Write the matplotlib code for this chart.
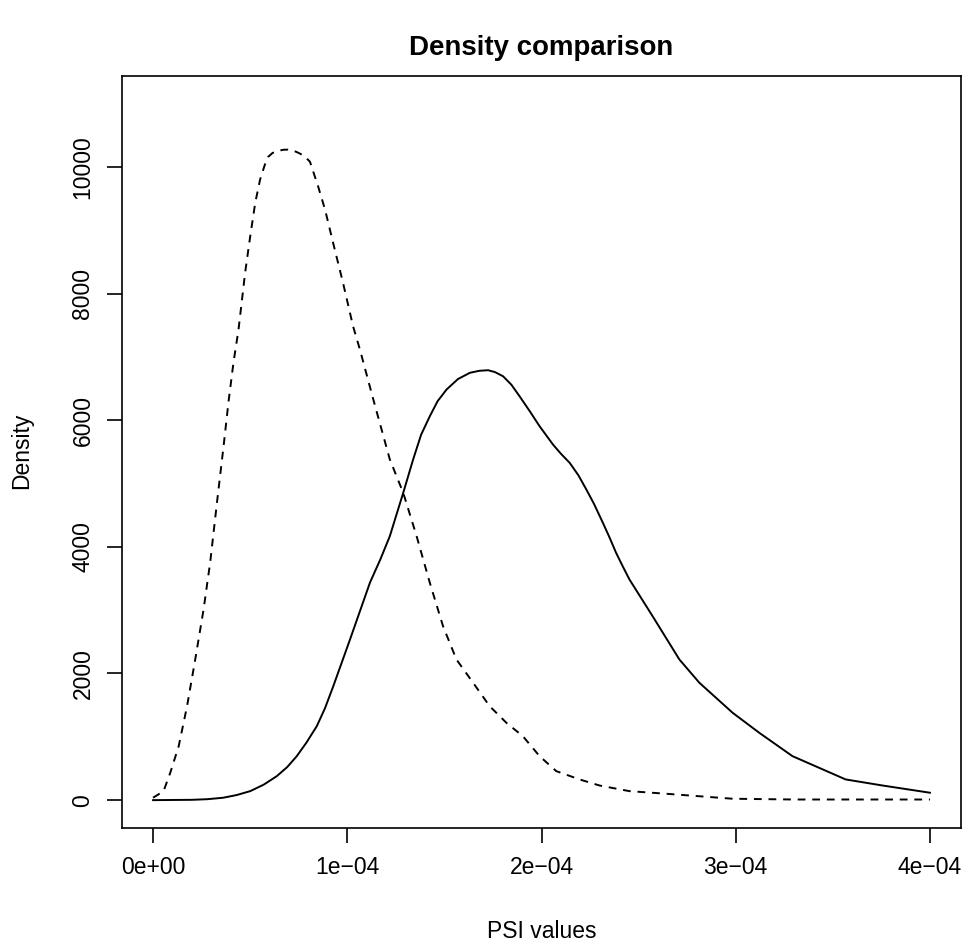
import matplotlib
matplotlib.use("Agg")
import matplotlib.pyplot as plt

plt.rcParams["font.family"] = ["Liberation Sans", "DejaVu Sans"]

# PSI values (x 1e-4) and densities
solid_x = [0.0, 0.2, 0.28, 0.361, 0.43, 0.5, 0.57, 0.637, 0.69, 0.740,
           0.79, 0.843, 0.885, 0.928, 1.014, 1.117, 1.17, 1.219, 1.288, 1.339,
           1.38, 1.425, 1.465, 1.511, 1.57, 1.631, 1.68, 1.725, 1.76, 1.802,
           1.845, 1.887, 1.940, 1.990, 2.059, 2.10, 2.145, 2.19, 2.231, 2.27,
           2.316, 2.35, 2.384, 2.418, 2.453, 2.572, 2.710, 2.813, 2.984, 3.121,
           3.292, 3.566, 3.754, 4.0]
solid_y = [0, 5, 15, 38, 80, 142, 245, 379, 520, 695,
           910, 1168, 1450, 1800, 2537, 3437, 3800, 4168, 4853, 5379,
           5770, 6063, 6300, 6484, 6650, 6748, 6780, 6789, 6760, 6694,
           6560, 6378, 6140, 5905, 5616, 5470, 5327, 5130, 4905, 4680,
           4380, 4150, 3906, 3694, 3484, 2905, 2221, 1853, 1380, 1064,
           695, 327, 232, 117]

dashed_x = [0.0, 0.054, 0.089, 0.132, 0.175, 0.217, 0.260, 0.294, 0.329, 0.363,
            0.388, 0.414, 0.440, 0.474, 0.5, 0.526, 0.551, 0.575, 0.593, 0.615,
            0.64, 0.67, 0.695, 0.72, 0.75, 0.78, 0.808, 0.850, 0.886, 0.927,
            0.978, 1.030, 1.065, 1.134, 1.219, 1.288, 1.357, 1.425, 1.493, 1.562,
            1.648, 1.733, 1.819, 1.904, 1.990, 2.076, 2.196, 2.3, 2.453, 2.641,
            2.984, 3.3, 4.0]
dashed_y = [38, 142, 437, 853, 1484, 2221, 3011, 3753, 4700, 5589,
            6279, 6911, 7432, 8330, 8900, 9433, 9800, 10030, 10160, 10220,
            10250, 10270, 10273, 10260, 10220, 10170, 10080, 9690, 9320, 8800,
            8170, 7480, 7116, 6327, 5380, 4853, 4168, 3432, 2747, 2221,
            1853, 1484, 1222, 1010, 695, 458, 327, 230, 142, 101,
            22, 10, 10]

xticks = [0, 1e-4, 2e-4, 3e-4, 4e-4]
xtick_labels = ["0e+00", "1e\u221204", "2e\u221204", "3e\u221204", "4e\u221204"]
yticks = [0, 2000, 4000, 6000, 8000, 10000]

W, H = 966, 942
fig = plt.figure(figsize=(W / 100, H / 100), dpi=100)
ax = fig.add_axes([122 / W, 1 - 828 / H, (961 - 122) / W, (828 - 75.7) / H])

ax.plot([v * 1e-4 for v in solid_x], solid_y, color="black", lw=1.4, ls="-")
ax.plot([v * 1e-4 for v in dashed_x], dashed_y, color="black", lw=1.4,
        ls=(0, (4, 3.5)))

ax.set_xlim(-0.16e-4, 4.16e-4)
ax.set_ylim(-440, 11440)
ax.set_xticks(xticks)
ax.set_xticklabels(xtick_labels)
ax.set_yticks(yticks)
ax.set_yticklabels([str(t) for t in yticks], rotation=90, va="center")

ax.tick_params(direction="out", length=10.8, width=1.2, labelsize=16.5,
               colors="black", pad=9)
for s in ax.spines.values():
    s.set_linewidth(1.2)
    s.set_color("black")

fig.text(541.5 / W, 1 - 48 / H, "Density comparison", ha="center", va="center",
         fontsize=19.9, fontweight="bold")
fig.text(541.5 / W, 1 - 932 / H, "PSI values", ha="center", va="center",
         fontsize=16.5)
fig.text(22 / W, 1 - 451 / H, "Density", ha="center", va="center",
         fontsize=16.5, rotation=90)

fig.savefig("out.png", dpi=100)
